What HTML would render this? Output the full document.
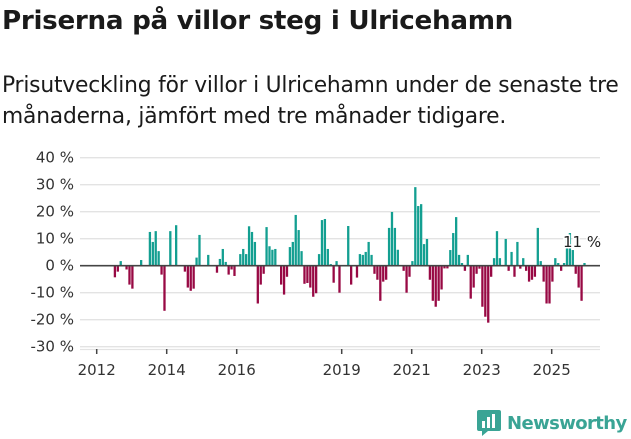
<!DOCTYPE html>
<html><head><meta charset="utf-8"><style>
body{margin:0;background:#fff;width:631px;height:439px;overflow:hidden;font-family:"Liberation Sans","DejaVu Sans",sans-serif;color:#1a1a1a}
h1{position:absolute;left:2px;top:6px;margin:0;font-size:26.2px;font-weight:bold;font-family:"DejaVu Sans","Liberation Sans",sans-serif;letter-spacing:-0.3px;white-space:nowrap}
p{position:absolute;left:2px;top:70px;margin:0;font-size:21.8px;line-height:31px;font-family:"DejaVu Sans","Liberation Sans",sans-serif;width:630px;letter-spacing:-0.2px}
</style></head><body>
<h1>Priserna på villor steg i Ulricehamn</h1>
<p>Prisutveckling för villor i Ulricehamn under de senaste tre<br>månaderna, jämfört med tre månader tidigare.</p>
<svg id="chart" width="631" height="439" style="position:absolute;left:0;top:0" font-family="DejaVu Sans, Liberation Sans, sans-serif"></svg>
<script>
const months=[6,7,8,10,11,12,15,18,19,20,21,22,23,25,27,30,31,32,33,34,35,38,41,42,43,44,45,46,47,49,50,51,52,53,54,55,56,57,58,59,60,61,63,64,65,66,67,68,69,70,71,72,73,74,75,76,77,78,79,80,81,82,83,86,87,89,90,91,92,93,94,95,96,97,98,99,100,101,102,103,105,106,107,108,109,110,111,112,113,114,115,116,117,118,119,120,121,122,123,124,125,126,127,128,129,130,131,132,133,134,135,136,137,138,140,141,142,143,144,145,146,147,148,149,150,151,152,153,154,155,156,157,158,159,160,161,162,163,164,165,166,167];
const values=[-4.3,-2.2,1.7,-1.4,-7,-8.5,2.1,12.5,8.8,12.8,5.4,-3.3,-16.7,12.8,15,-2.2,-8.1,-9.3,-8.5,3,11.4,4,-2.6,2.5,6.2,1.4,-3.3,-1.4,-3.8,4.3,6.2,4.3,14.6,12.5,8.8,-14,-7,-3,14.3,7.2,5.9,6.2,-7,-10.7,-4.1,6.9,8.8,18.8,13.2,5.4,-6.7,-6.4,-8.1,-11.5,-10.2,4.3,16.9,17.3,6.2,0.6,-6.3,1.7,-10,14.7,-7,-4.4,4.3,4,5.1,8.8,4,-3,-5.2,-13,-5.9,-5.2,14,19.9,14,5.9,-1.9,-10,-4.1,1.7,29.1,22.1,22.8,8,9.9,-5.2,-13,-15.2,-13,-8.8,-1,-1,5.8,12.1,18,4,1,-1.9,4,-12.2,-8.1,-3,-1.1,-15.2,-18.9,-21.1,-4.1,2.8,12.8,2.8,9.9,-1.9,5.1,-4.1,8.8,-1.1,2.8,-1.9,-5.9,-5.2,-4.1,14,1.7,-5.9,-14,-14,-5.9,2.8,1,-1.9,1,9.9,12.1,5.8,-3,-8.1,-13,1];
const yTicks=[40,30,20,10,0,-10,-20,-30];
const xTicks=[2012,2014,2016,2019,2021,2023,2025];
const NS='http://www.w3.org/2000/svg';
const svg=document.getElementById('chart');
const y=v=>265.7-v*2.7;
const x=yr=>96.7+(yr-2012)*35;
function mk(t,a){const e=document.createElementNS(NS,t);for(const k in a)e.setAttribute(k,a[k]);svg.appendChild(e);return e;}
yTicks.forEach(t=>{
  const g=mk('line',{x1:80,x2:600,y1:y(t),y2:y(t),stroke:'#e3e3e3','stroke-width':1.3});
  
  
  const l=mk('text',{x:74,y:y(t)+5,'text-anchor':'end','font-size':15,fill:'#333'});
  l.textContent=t+' %';
  
  
});
months.forEach((m,i)=>{
  const v=values[i];
  const cx=x(2012+m/12)+0.7;
  const r=mk('rect',{x:cx-1.15,width:2.3,y:v>=0?y(v):y(0),height:Math.abs(y(v)-y(0)),fill:v>=0?'#139f91':'#980944'});
  
  
});
const z=mk('line',{x1:80,x2:600,y1:y(0),y2:y(0),stroke:'#444','stroke-width':1.6});


const ax=mk('line',{x1:80,x2:600,y1:349.5,y2:349.5,stroke:'#e3e3e3','stroke-width':1.3});


xTicks.forEach(t=>{
  const tk=mk('line',{x1:x(t),x2:x(t),y1:349,y2:354,stroke:'#444','stroke-width':1.5});
  
  
  const l=mk('text',{x:x(t),y:375,'text-anchor':'middle','font-size':15,fill:'#333'});
  l.textContent=t;
  
  
});
const lab=mk('text',{x:563,y:247,'font-size':15,fill:'#222',stroke:'#fff','stroke-width':3,'paint-order':'stroke'});
lab.textContent='11 %';


</script>
<div style="position:absolute;left:476px;top:408px;height:30px;display:flex;align-items:center">
<svg width="26" height="28" viewBox="0 0 26 28"><path d="M3 1h20a2 2 0 0 1 2 2v17a2 2 0 0 1-2 2H12l-6 5v-5H3a2 2 0 0 1-2-2V3a2 2 0 0 1 2-2z" fill="#3aa495"/><rect x="6" y="12" width="3" height="7" fill="#fff"/><rect x="11" y="8" width="3" height="11" fill="#fff"/><rect x="16" y="5" width="3" height="14" fill="#fff"/></svg>
<span style="margin-left:5px;font-size:18px;font-weight:bold;color:#3aa495;font-family:'DejaVu Sans','Liberation Sans',sans-serif;letter-spacing:-0.6px">Newsworthy</span>
</div>
</body></html>
